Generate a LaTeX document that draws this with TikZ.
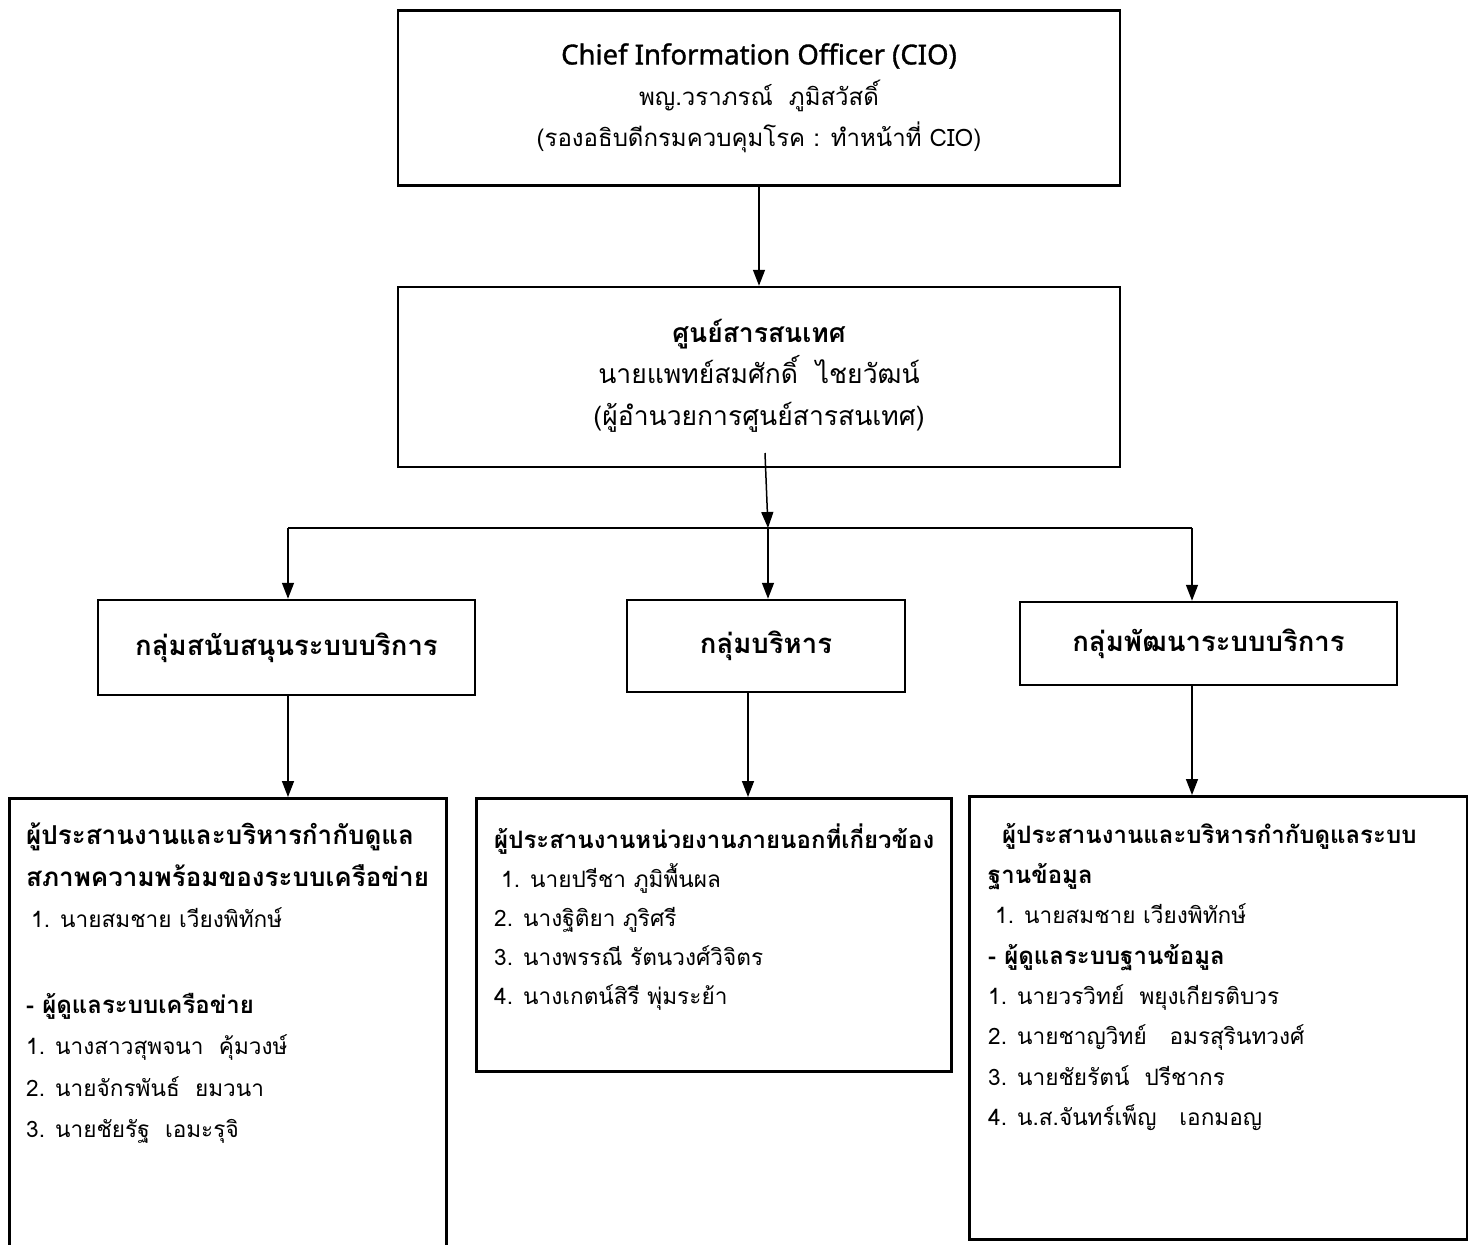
\documentclass[tikz,border=0pt]{standalone}
\usepackage{fontspec}
\setmainfont[Script=Thai]{Loma}
\newfontfamily\latinfont[AutoFakeBold=1.2]{Noto Sans}
\usetikzlibrary{arrows.meta,positioning}

\newcommand{\headsize}{\fontsize{24}{41}\selectfont}
\newcommand{\bighead}{\fontsize{26}{41}\selectfont}

\tikzset{
  orgbox/.style={draw,line width=2.5pt,align=center,inner sep=0pt,
    font=\fontsize{24}{41}\selectfont},
  grpbox/.style={orgbox,font=\fontsize{27.5}{41}\selectfont\bfseries},
  listbox/.style={draw,line width=2.5pt,anchor=north west,inner sep=0pt},
  listtext/.style={anchor=north west,align=left,inner sep=0pt,
    font=\fontsize{22.6}{41.5}\selectfont},
  link/.style={line width=1.5pt,-{Triangle[length=16pt,width=12pt]}},
  busline/.style={line width=1.5pt}
}

\begin{document}
\begin{tikzpicture}[x=1pt,y=-1pt]

\clip (0,0) rectangle (1468,1245);

% top two levels
\node[orgbox,minimum width=722pt,minimum height=175pt] (cio) at (759,98)
  {{\latinfont\fontsize{27.5}{41}\selectfont\bfseries Chief Information Officer (CIO)}\\
   พญ.วราภรณ์~ ภูมิสวัสดิ์\\
   (รองอธิบดีกรมควบคุมโรค : ทำหน้าที่ CIO)};
\node[orgbox,font=\fontsize{26.5}{41.5}\selectfont,
  minimum width=722pt,minimum height=180pt] (ict) at (759,377)
  {\textbf{ศูนย์สารสนเทศ}\\
   นายแพทย์สมศักดิ์~ ไชยวัฒน์\\
   (ผู้อำนวยการศูนย์สารสนเทศ)\\[-32pt]};

% groups
\node[grpbox,minimum width=377pt,minimum height=95pt] (grpL) at (286.5,647.5)
  {กลุ่มสนับสนุนระบบบริการ};
\node[grpbox,minimum width=278pt,minimum height=92pt] (grpM) at (766,646)
  {กลุ่มบริหาร};
\node[grpbox,minimum width=377pt,minimum height=83pt] (grpR) at (1208.5,643.5)
  {กลุ่มพัฒนาระบบบริการ};

% staff boxes
\node[listbox,minimum width=437pt,minimum height=520pt] (listL) at (8,797) {};
\node[listbox,minimum width=475pt,minimum height=273pt] (listM) at (475,797) {};
\node[listbox,minimum width=498pt,minimum height=443pt] (listR) at (968,795) {};

\node[listtext] (textL) at (26,823)
  {{\bighead\bfseries ผู้ประสานงานและบริหารกำกับดูแล}\\
   {\bighead\bfseries สภาพความพร้อมของระบบเครือข่าย}\\
   \hspace*{5pt}1. นายสมชาย เวียงพิทักษ์\\[44pt]
   {\headsize\bfseries - ผู้ดูแลระบบเครือข่าย}\\
   1. นางสาวสุพจนา~ คุ้มวงษ์\\
   2. นายจักรพันธ์~ ยมวนา\\
   3. นายชัยรัฐ~ เอมะรุจิ};
\node[listtext,font=\fontsize{22.6}{39}\selectfont] (textM) at (494,824)
  {{\headsize\bfseries ผู้ประสานงานหน่วยงานภายนอกที่เกี่ยวข้อง}\\
   \hspace*{7pt}1. นายปรีชา ภูมิพื้นผล\\
   2. นางฐิติยา ภูริศรี\\
   3. นางพรรณี รัตนวงศ์วิจิตร\\
   4. นางเกตน์สิรี พุ่มระย้า};
\node[listtext,font=\fontsize{22.6}{40.3}\selectfont] (textR) at (988,823)
  {{\headsize\bfseries \hspace*{14pt}ผู้ประสานงานและบริหารกำกับดูแลระบบ}\\
   {\headsize\bfseries ฐานข้อมูล}\\
   \hspace*{7pt}1. นายสมชาย เวียงพิทักษ์\\
   {\headsize\bfseries - ผู้ดูแลระบบฐานข้อมูล}\\
   1. นายวรวิทย์~ พยุงเกียรติบวร\\
   2. นายชาญวิทย์~~ อมรสุรินทวงศ์\\
   3. นายชัยรัตน์~ ปรีชากร\\
   4. น.ส.จันทร์เพ็ญ~~ เอกมอญ};

% connectors
\coordinate (bus) at (768,528);
\coordinate (busL) at (288,528);
\coordinate (busR) at (1192,528);

\draw[link] (cio.south) -- (ict.north);
\draw[link] (765,453) -- (bus);
\draw[busline] (busL) -- (busR);
\draw[link] (busL) -- (busL |- grpL.north);
\draw[link] (bus) -- (bus |- grpM.north);
\draw[link] (busR) -- (busR |- grpR.north);

\draw[link] (288,695) -- (288,797);
\draw[link] (748,692) -- (748,797);
\draw[link] (1192,685) -- (1192,795);

\end{tikzpicture}
\end{document}
